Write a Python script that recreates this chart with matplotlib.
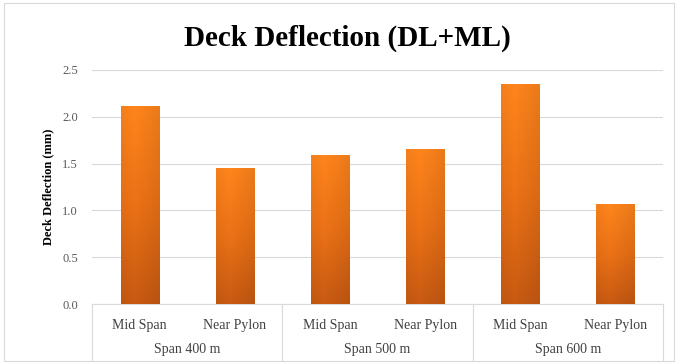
import numpy as np
import matplotlib.pyplot as plt
from matplotlib.colors import LinearSegmentedColormap
from matplotlib.patches import Rectangle
import matplotlib.transforms as mtransforms

# Deck deflection under dead + moving load
spans = ["Span 400 m", "Span 500 m", "Span 600 m"]
locations = ["Mid Span", "Near Pylon"]
deflection = [2.11, 1.45, 1.59, 1.66, 2.35, 1.07]

plt.rcParams["font.family"] = ["Liberation Serif", "DejaVu Serif"]

fig = plt.figure(figsize=(6.78, 3.63), dpi=100)
ax = fig.add_axes([0.1357, 0.1625, 0.9779 - 0.1357, 0.8072 - 0.1625])

labels = [loc for _ in spans for loc in locations]
x = np.arange(len(deflection))
bars = ax.bar(x, deflection, width=0.4, color="none", edgecolor="none", zorder=3)

# orange gradient fill for each bar
cmap = LinearSegmentedColormap.from_list("bar_grad", ["#C85A12", "#EC7216", "#FF851C"])
grad = np.linspace(0, 1, 256).reshape(-1, 1)
shade = 1 - 0.06 * np.abs(np.linspace(-1, 1, 32) + 0.3)
for b in bars:
    x0, y0 = b.get_x(), b.get_y()
    w, h = b.get_width(), b.get_height()
    img = cmap(grad * np.ones((1, 32)))
    img[..., :3] *= shade[None, :, None]
    im = ax.imshow(img, extent=[x0, x0 + w, y0, y0 + h], origin="lower",
                   aspect="auto", zorder=3, interpolation="bilinear")
    im.set_clip_path(b)

ax.set_xlim(-0.5, len(deflection) - 0.5)
ax.set_ylim(0, 2.5)
ax.set_yticks(np.arange(0, 2.51, 0.5))
ax.yaxis.set_major_formatter(plt.FormatStrFormatter("%.1f"))
ax.grid(axis="y", color="#D9D9D9", linewidth=0.8, zorder=0)
ax.tick_params(axis="y", length=0, labelsize=9, labelcolor="#595959", pad=10)
ax.set_xticks(x)
ax.set_xticklabels(labels)
ax.tick_params(axis="x", length=0, labelsize=10, labelcolor="#404040", pad=11)
for s in ["top", "right", "left"]:
    ax.spines[s].set_visible(False)
ax.spines["bottom"].set_color("#D9D9D9")

ax.set_ylabel("Deck Deflection (mm)", fontsize=9, fontweight="bold", labelpad=6)
fig.text(0.512, 0.895, "Deck Deflection (DL+ML)", fontsize=21, fontweight="bold",
         ha="center", va="center")

# two-level category axis: group labels and separators
trans = mtransforms.blended_transform_factory(ax.transData, ax.transAxes)
for i, name in enumerate(spans):
    ax.text(2 * i + 0.5, -0.195, name, transform=trans, ha="center", va="center",
            fontsize=10, color="#404040")
for xs in np.arange(-0.5, len(deflection), 2):
    ax.plot([xs, xs], [0, -0.24], transform=trans, color="#D9D9D9",
            linewidth=0.8, clip_on=False)

fig.patches.append(Rectangle((0.006, 0.006), 0.988, 0.985, transform=fig.transFigure,
                             fill=False, edgecolor="#D9D9D9", linewidth=0.8))

fig.savefig("out.png", dpi=100)
